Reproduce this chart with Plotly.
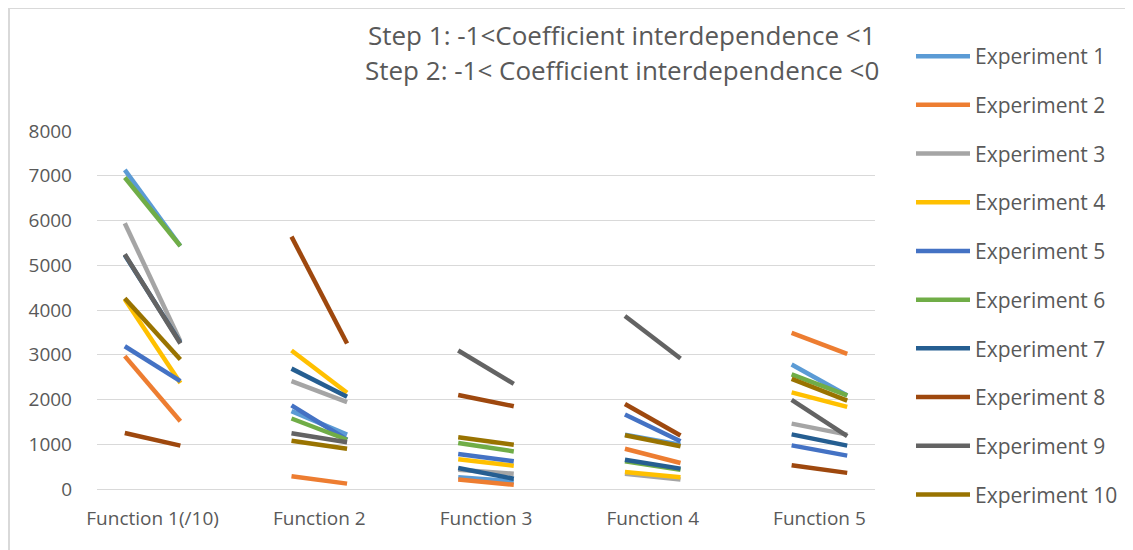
import plotly.graph_objects as go

categories = ["Function 1(/10)", "Function 2", "Function 3", "Function 4", "Function 5"]
experiments = ["Experiment 1", "Experiment 2", "Experiment 3", "Experiment 4", "Experiment 5",
               "Experiment 6", "Experiment 7", "Experiment 8", "Experiment 9", "Experiment 10"]

# Step 1 values (left end of each segment)
step1_exp1 = [7130, 1740, 260, 1215, 2780]
step1_exp2 = [2970, 285, 210, 900, 3490]
step1_exp3 = [5940, 2410, 430, 340, 1460]
step1_exp4 = [4240, 3095, 665, 380, 2160]
step1_exp5 = [3190, 1870, 780, 1665, 975]
step1_exp6 = [6960, 1575, 1030, 620, 2560]
step1_exp7 = [5230, 2690, 470, 655, 1220]
step1_exp8 = [1250, 5640, 2100, 1900, 530]
step1_exp9 = [5245, 1245, 3095, 3865, 1990]
step1_exp10 = [4260, 1080, 1155, 1200, 2460]

# Step 2 values (right end of each segment)
step2_exp1 = [5430, 1215, 170, 990, 2090]
step2_exp2 = [1515, 120, 95, 580, 3020]
step2_exp3 = [3300, 1940, 340, 210, 1215]
step2_exp4 = [2370, 2150, 520, 260, 1835]
step2_exp5 = [2410, 1100, 620, 1065, 745]
step2_exp6 = [5430, 1100, 840, 430, 2090]
step2_exp7 = [3270, 2060, 230, 455, 970]
step2_exp8 = [970, 3250, 1850, 1195, 360]
step2_exp9 = [3250, 1045, 2350, 2915, 1180]
step2_exp10 = [2895, 900, 990, 955, 1975]

step1 = [step1_exp1, step1_exp2, step1_exp3, step1_exp4, step1_exp5,
         step1_exp6, step1_exp7, step1_exp8, step1_exp9, step1_exp10]
step2 = [step2_exp1, step2_exp2, step2_exp3, step2_exp4, step2_exp5,
         step2_exp6, step2_exp7, step2_exp8, step2_exp9, step2_exp10]

colors = ["#5B9BD5", "#ED7D31", "#A5A5A5", "#FFC000", "#4472C4",
          "#70AD47", "#255E91", "#9E480E", "#636363", "#997300"]

FONT = "Open Sans"
GRAY = "#595959"

# figure geometry (page body adds an 8px offset)
W, H = 1125, 542
ML, MR, MT, MB = 89, 258, 10, 10
PW = W - ML - MR
PH = H - MT - MB
PLOT_TOP, PLOT_BOT = 123, 481


def px(fx):
    return (fx - ML) / PW


def py(fy):
    return (H - MB - fy) / PH


fig = go.Figure()
for k, name in enumerate(experiments):
    xs, ys = [], []
    for i in range(len(categories)):
        xs += [3 * i, 3 * i + 1, None]
        ys += [step1[k][i], step2[k][i], None]
    fig.add_trace(go.Scatter(
        x=xs, y=ys, mode="lines", name=name, connectgaps=False,
        line=dict(color=colors[k], width=4.5),
        legendgroup=name,
    ))

fig.update_layout(
    width=W, height=H,
    margin=dict(l=ML, r=MR, t=MT, b=MB, autoexpand=False),
    paper_bgcolor="white", plot_bgcolor="white",
    font=dict(family=FONT, color=GRAY, size=16),
    showlegend=True,
    legend=dict(
        x=px(903), y=py(28), xanchor="left", yanchor="top",
        font=dict(family=FONT, size=21, color=GRAY),
        tracegroupgap=18.4, itemwidth=54,
        bgcolor="rgba(0,0,0,0)",
    ),
    xaxis=dict(
        range=[-0.5, 13.5],
        tickmode="array",
        tickvals=[3 * i + 0.5 for i in range(len(categories))],
        ticktext=categories,
        showgrid=False, zeroline=False, showline=False, ticks="",
        tickfont=dict(size=19, color=GRAY),
        ticklabelstandoff=16,
    ),
    yaxis=dict(
        range=[0, 8000], dtick=1000,
        domain=[py(PLOT_BOT), py(PLOT_TOP)],
        showgrid=True, gridcolor="#d9d9d9", gridwidth=1,
        zeroline=True, zerolinecolor="#d9d9d9", zerolinewidth=1,
        showline=False, ticks="",
        tickfont=dict(size=19, color=GRAY),
        ticklabelstandoff=24,
    ),
    annotations=[
        dict(text="Step 1: -1<Coefficient interdependence <1", xref="paper", yref="paper",
             x=px(614), y=py(27), xanchor="center", yanchor="middle",
             showarrow=False, font=dict(family=FONT, size=26, color=GRAY)),
        dict(text="Step 2: -1< Coefficient interdependence <0", xref="paper", yref="paper",
             x=px(614), y=py(62), xanchor="center", yanchor="middle",
             showarrow=False, font=dict(family=FONT, size=26, color=GRAY)),
    ],
    shapes=[
        dict(type="rect", xref="paper", yref="paper",
             x0=px(1), x1=px(W + 50), y0=py(H + 50), y1=py(0),
             line=dict(color="#d9d9d9", width=2), fillcolor="rgba(0,0,0,0)", layer="below"),
    ],
)

fig.write_html("out.html")
